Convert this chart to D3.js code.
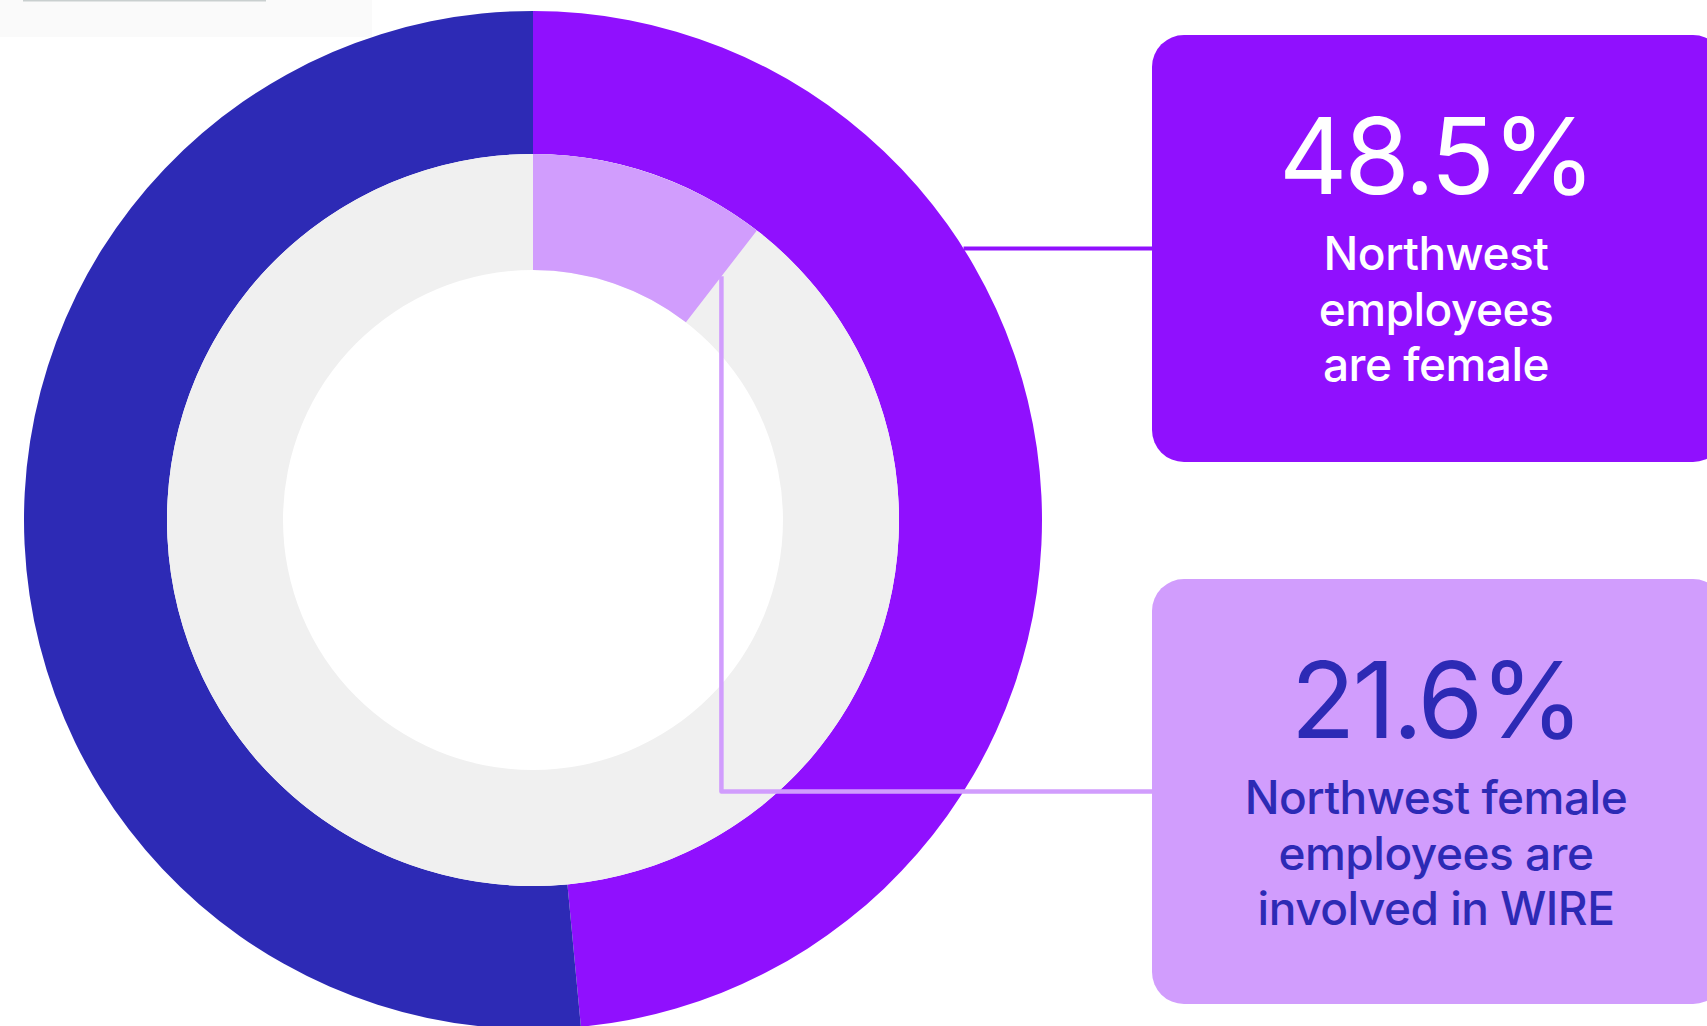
<!doctype html>
<html lang="en">
<head>
	<meta charset="utf-8">
	<title>Northwest WIRE donut</title>
	<script src="https://cdn.jsdelivr.net/npm/d3@7"></script>
	<style>
		body { margin: 0; background: #fff; overflow: hidden; }
		svg { display: block; }
		text { font-family: Inter, "Open Sans", sans-serif; }
	</style>
</head>
<body>
	<svg id="chart" width="1707" height="1026"></svg>
	<script>
		// data
		var groups = ["Female", "Other"];
		var shares = [48.5, 51.5];              // % of Northwest employees
		var wireShare = 21.6;                   // % of female employees involved in WIRE
		var ringColors = ["#9010fe", "#2d2ab5"];

		var callouts = [
			{value: "48.5%", lines: ["Northwest", "employees", "are female"], fill: "#9010fe", ink: "#ffffff"},
			{value: "21.6%", lines: ["Northwest female", "employees are", "involved in WIRE"], fill: "#d19dfd", ink: "#2d2ab5"}
		];

		var svg = d3.select("#chart");
		var cx = 533, cy = 520;
		var rOuter = 509, rMid = 366, rInner = 250;

		// faint leftover strip at top left
		svg.append("rect").attr("x", 0).attr("y", 0).attr("width", 372).attr("height", 37).attr("fill", "#fafafa");
		svg.append("rect").attr("x", 23).attr("y", 0).attr("width", 243).attr("height", 1.5).attr("fill", "#c9cfcf");

		var angle = d3.scaleLinear().domain([0, 100]).range([0, 2 * Math.PI]);

		var g = svg.append("g").attr("transform", "translate(" + cx + "," + cy + ")");

		// outer ring: female vs other
		var pie = d3.pie().sort(null).value(function(d) { return d; });
		var outerArc = d3.arc().innerRadius(rMid).outerRadius(rOuter);
		g.selectAll("path.outer")
			.data(pie(shares))
			.enter()
			.append("path")
			.attr("class", "outer")
			.attr("d", outerArc)
			.attr("fill", function(d, i) { return ringColors[i]; });

		// inner ring: grey track + WIRE slice (share of the female part)
		var innerArc = d3.arc().innerRadius(rInner).outerRadius(rMid);
		g.append("path")
			.attr("d", innerArc({startAngle: 0, endAngle: 2 * Math.PI}))
			.attr("fill", "#f0f0f0");
		var wireEnd = angle(shares[0] * wireShare / 100);
		g.append("path")
			.attr("d", innerArc({startAngle: 0, endAngle: wireEnd}))
			.attr("fill", "#d19dfd");

		// callout boxes
		var boxX = 1152, boxW = 573, boxH = 427;
		var boxY = d3.scalePoint().domain([0, 1]).range([35, 579]);

		var box = svg.selectAll("g.callout")
			.data(callouts)
			.enter()
			.append("g")
			.attr("class", "callout")
			.attr("transform", function(d, i) { return "translate(" + boxX + "," + boxY(i) + ")"; });

		box.append("rect")
			.attr("width", boxW)
			.attr("height", function(d, i) { return i == 0 ? boxH : 425; })
			.attr("rx", 32)
			.attr("fill", function(d) { return d.fill; });

		box.append("text")
			.attr("x", 284)
			.attr("y", 159)
			.attr("text-anchor", "middle")
			.attr("font-size", 106)
			.attr("letter-spacing", -3)
			.attr("fill", function(d) { return d.ink; })
			.text(function(d) { return d.value; });

		box.each(function(d) {
			d3.select(this).selectAll("text.line")
				.data(d.lines)
				.enter()
				.append("text")
				.attr("class", "line")
				.attr("x", 284)
				.attr("y", function(t, j) { return 235 + j * 55.5; })
				.attr("text-anchor", "middle")
				.attr("font-size", 46)
				.attr("font-weight", 500)
				.attr("letter-spacing", -0.5)
				.attr("fill", d.ink)
				.text(function(t) { return t; });
		});

		// connector 1: outer ring edge -> box 1 centre line
		var y1 = boxY(0) + boxH / 2;
		var x1 = cx + Math.sqrt(rOuter * rOuter - (y1 - cy) * (y1 - cy));
		svg.append("line")
			.attr("x1", x1).attr("y1", y1)
			.attr("x2", boxX + 2).attr("y2", y1)
			.attr("stroke", "#9010fe")
			.attr("stroke-width", 4);

		// connector 2: end of WIRE slice -> down -> box 2 centre line
		var rm = (rInner + rMid) / 2;
		var px = cx + rm * Math.sin(wireEnd), py = cy - rm * Math.cos(wireEnd);
		var y2 = boxY(1) + 425 / 2;
		svg.append("path")
			.attr("d", d3.line()([[px, py], [px, y2], [boxX + 2, y2]]))
			.attr("fill", "none")
			.attr("stroke", "#d19dfd")
			.attr("stroke-width", 4.5)
			.attr("stroke-linejoin", "round");
	</script>
</body>
</html>
